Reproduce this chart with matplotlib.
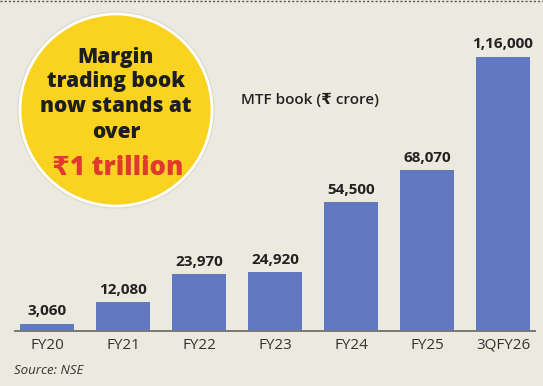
import matplotlib.pyplot as plt
from matplotlib.patches import Circle

years = ['FY20', 'FY21', 'FY22', 'FY23', 'FY24', 'FY25', '3QFY26']
mtf_book = [3060, 12080, 23970, 24920, 54500, 68070, 116000]
value_labels = ['3,060', '12,080', '23,970', '24,920', '54,500', '68,070', '1,16,000']

bg = '#ECE9DF'
bar_color = '#6179C0'
fonts = ['Open Sans', 'DejaVu Sans']

fig = plt.figure(figsize=(5.43, 3.86), dpi=100, facecolor=bg)

# основная ось: базовая линия на y=331 px, столбцы от x=15 до 535 px
ax = fig.add_axes([15 / 543, 55 / 386, 520 / 543, 331 / 386])
ax.set_facecolor('none')
x = list(range(len(years)))
ax.bar(x, mtf_book, width=0.72, color=bar_color, zorder=2)
ax.set_xlim(-0.421, 6.421)
ax.set_ylim(0, 116000 * 331 / 274)

for xi, val, lab in zip(x, mtf_book, value_labels):
    ax.annotate(lab, xy=(xi, val), xytext=(0, 4), textcoords='offset points',
                ha='center', va='bottom', fontsize=11, fontweight='bold',
                color='#222222', family=fonts)

for s in ['top', 'right', 'left']:
    ax.spines[s].set_visible(False)
ax.spines['bottom'].set_color('#777777')
ax.spines['bottom'].set_linewidth(1.4)
ax.set_yticks([])
ax.set_xticks(x)
ax.set_xticklabels(years, fontsize=11, color='#333333', family=fonts)
ax.tick_params(axis='x', length=0, pad=5)

# верхний слой в пиксельных координатах
ov = fig.add_axes([0, 0, 1, 1])
ov.set_xlim(0, 543)
ov.set_ylim(386, 0)
ov.axis('off')
ov.set_facecolor('none')

ov.plot([0, 543], [1, 1], color='#555555', lw=1, ls=(0, (1.5, 1.5)))

ov.add_patch(Circle((116, 110), 98, color='#D8D4C6', zorder=1, alpha=0.6))
ov.add_patch(Circle((116, 110), 96, facecolor='#F9D320', edgecolor='white',
                    lw=2, zorder=2))

circle_lines = [('Margin', 57), ('trading book', 82), ('now stands at', 107), ('over', 132)]
for txt, yy in circle_lines:
    ov.text(116, yy, txt, ha='center', va='center', fontsize=15,
            fontweight='heavy', color='#1E1E1E', family=fonts, zorder=3)
ov.text(118, 168, '₹1 trillion', ha='center', va='center', fontsize=18.5,
        fontweight='heavy', color='#E03A2E', family=fonts, zorder=3)

ov.text(241, 100, 'MTF book (₹ crore)', ha='left', va='center', fontsize=11,
        fontweight='semibold', color='#222222', family=fonts)
ov.text(14, 370, 'Source: NSE', ha='left', va='center', fontsize=9.5,
        style='italic', color='#333333', family=fonts)

plt.savefig('out.png', dpi=100, facecolor=bg)
plt.close()
